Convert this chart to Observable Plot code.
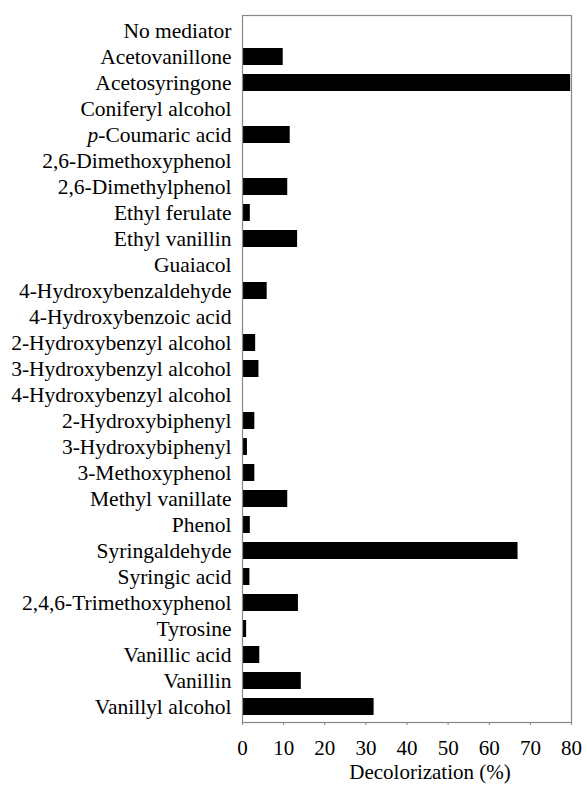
<!DOCTYPE html>
<html>
<head>
<meta charset="utf-8">
<script src="https://cdn.jsdelivr.net/npm/d3@7"></script>
<script src="https://cdn.jsdelivr.net/npm/@observablehq/plot@0.6"></script>
<style>
  html, body { margin: 0; padding: 0; background: #fff; }
  #chart svg { display: block; background: #fff; }
</style>
</head>
<body>
<div id="chart"></div>
<script>
const mediators = [
  "No mediator", "Acetovanillone", "Acetosyringone", "Coniferyl alcohol",
  "p-Coumaric acid", "2,6-Dimethoxyphenol", "2,6-Dimethylphenol", "Ethyl ferulate",
  "Ethyl vanillin", "Guaiacol", "4-Hydroxybenzaldehyde", "4-Hydroxybenzoic acid",
  "2-Hydroxybenzyl alcohol", "3-Hydroxybenzyl alcohol", "4-Hydroxybenzyl alcohol",
  "2-Hydroxybiphenyl", "3-Hydroxybiphenyl", "3-Methoxyphenol", "Methyl vanillate",
  "Phenol", "Syringaldehyde", "Syringic acid", "2,4,6-Trimethoxyphenol", "Tyrosine",
  "Vanillic acid", "Vanillin", "Vanillyl alcohol"
];
const decolorization = [
  0, 9.9, 79.8, 0,
  11.6, 0, 11.0, 1.9,
  13.4, 0, 6.0, 0,
  3.2, 4.0, 0,
  3.0, 1.2, 3.0, 11.0,
  1.9, 67.0, 1.8, 13.6, 1.0,
  4.2, 14.3, 32.0
];
const xTicks = [0, 10, 20, 30, 40, 50, 60, 70, 80];
const xTitle = "Decolorization (%)";

const data = mediators.map((m, i) => ({mediator: m, value: decolorization[i]}));

const serif = "Liberation Serif";

const chart = Plot.plot({
  width: 587,
  height: 785,
  marginLeft: 242,
  marginRight: 16,
  marginTop: 15,
  marginBottom: 63,
  style: {background: "#fff", color: "#000"},
  x: {domain: [0, 80]},
  y: {domain: mediators, paddingInner: 0.35, paddingOuter: 0.175},
  marks: [
    Plot.barX(data, {x: "value", y: "mediator", fill: "#000"}),
    Plot.frame({stroke: "#888", strokeWidth: 1.2}),
    Plot.axisX({ticks: xTicks, tickSize: 3, tickPadding: 15, stroke: "#888", label: null, fontSize: 21, fontFamily: serif, fill: "#000"}),
    Plot.axisY({tickSize: 0, tickPadding: 11, label: null, fontSize: 21.5, fontFamily: serif, fill: "#000"}),
    Plot.text([xTitle], {frameAnchor: "bottom", dy: 56, dx: 23, lineAnchor: "bottom", fontSize: 21, fontFamily: serif, fill: "#000"})
  ]
});

// italicize the leading "p" of p-Coumaric acid
chart.querySelectorAll("text").forEach(t => {
  if (t.textContent === "p-Coumaric acid") {
    const target = t.querySelector("tspan") || t;
    target.textContent = "";
    const ns = "http://www.w3.org/2000/svg";
    const a = document.createElementNS(ns, "tspan");
    a.setAttribute("font-style", "italic");
    a.textContent = "p";
    const b = document.createElementNS(ns, "tspan");
    b.textContent = "-Coumaric acid";
    target.appendChild(a);
    target.appendChild(b);
  }
});

document.getElementById("chart").appendChild(chart);
</script>
</body>
</html>
